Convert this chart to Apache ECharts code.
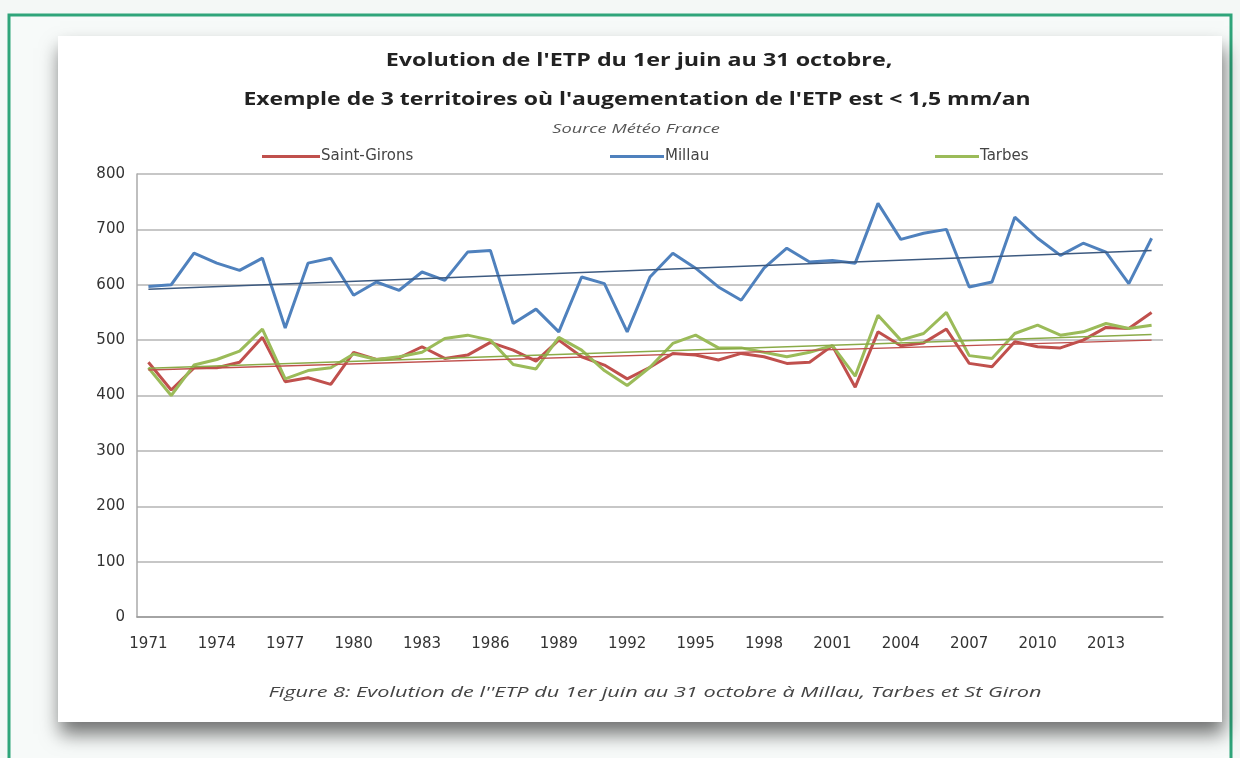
<!DOCTYPE html>
<html>
<head>
<meta charset="utf-8">
<script src="https://cdn.jsdelivr.net/npm/echarts@6/dist/echarts.min.js"></script>
<style>
html,body{margin:0;padding:0;background:#f4f8f6;}
#c{width:1240px;height:758px;}
</style>
</head>
<body>
<div id="c"></div>
<script>
var years = ['1971','1972','1973','1974','1975','1976','1977','1978','1979','1980',
 '1981','1982','1983','1984','1985','1986','1987','1988','1989','1990',
 '1991','1992','1993','1994','1995','1996','1997','1998','1999','2000',
 '2001','2002','2003','2004','2005','2006','2007','2008','2009','2010',
 '2011','2012','2013','2014','2015'];
var saintGirons = [460,410,450,450,460,505,425,432,420,478,
 465,468,488,467,473,496,482,462,500,470,
 455,430,451,476,473,464,476,470,458,460,
 490,415,515,490,495,520,458,452,497,488,
 486,500,523,521,550];
var millau = [597,600,657,639,626,648,522,639,648,581,
 605,590,623,608,659,662,530,556,515,614,
 602,515,614,657,630,596,572,630,666,641,
 644,639,747,682,693,700,596,605,722,684,
 653,675,659,602,684];
var tarbes = [450,400,455,465,480,520,430,445,450,475,
 465,470,478,503,509,500,456,448,505,482,
 445,418,451,494,509,486,486,478,470,478,
 490,435,545,500,512,550,472,467,512,527,
 509,515,530,521,527];
// linear trend endpoints (first year, last year)
var trendSaintGirons = [446, 500];
var trendMillau = [592, 662];
var trendTarbes = [449, 510];
var yTicks = [0,100,200,300,400,500,600,700,800];

var chart = echarts.init(document.getElementById('c'));
var FONT = '"Open Sans", "Liberation Sans", sans-serif';
var AXFONT = '"DejaVu Sans", sans-serif';
function trend(t, color){
  return {
    silent: true, symbol: ['none','none'], label:{show:false},
    lineStyle:{color: color, width: 1.5, type:'solid'},
    data: [[{coord:[years[0], t[0]]},{coord:[years[years.length-1], t[1]]}]]
  };
}
function stretchedText(txt, cx, cy, font, sx, fill){
  return {type:'text', x:cx, y:cy, scaleX:sx, z:10,
    style:{text:txt, font:font, fill:fill, textAlign:'center', textVerticalAlign:'middle'}};
}
var option = {
  animation: false,
  backgroundColor: '#f4f8f6',
  graphic: [
    {type:'rect', z:-10, shape:{x:9,y:15,width:1222,height:760},
     style:{fill:'#f7faf9', stroke:'#2fa57a', lineWidth:3}},
    {type:'rect', z:-9, shape:{x:58,y:36,width:1164,height:686},
     style:{fill:'#ffffff', shadowBlur:18, shadowOffsetY:12, shadowOffsetX:2, shadowColor:'rgba(0,0,0,0.55)'}},
    stretchedText("Evolution de l'ETP du 1er juin au 31 octobre,", 639, 61, 'bold 17px '+FONT, 1.37, '#222'),
    stretchedText("Exemple de 3 territoires où l'augementation de l'ETP est < 1,5 mm/an", 637, 100, 'bold 17px '+FONT, 1.35, '#222'),
    stretchedText('Source Météo France', 636, 129, 'italic 13px '+FONT, 1.4, '#555'),
    stretchedText("Figure 8: Evolution de l''ETP du 1er juin au 31 octobre à Millau, Tarbes et St Giron", 655, 693, 'italic 14px '+FONT, 1.55, '#444')
  ],
  legend: [
    {data:['Saint-Girons'], left:257, top:144, itemWidth:58, itemHeight:3, itemGap:4, icon:'rect',
     textStyle:{fontFamily:AXFONT, fontSize:15, color:'#444', padding:[0,0,0,-4]}},
    {data:['Millau'], left:605, top:144, itemWidth:54, itemHeight:3, icon:'rect',
     textStyle:{fontFamily:AXFONT, fontSize:15, color:'#444', padding:[0,0,0,-4]}},
    {data:['Tarbes'], left:930, top:144, itemWidth:44, itemHeight:3, icon:'rect',
     textStyle:{fontFamily:AXFONT, fontSize:15, color:'#444', padding:[0,0,0,-4]}}
  ],
  grid: {left:137, right:77, top:174, bottom:141},
  xAxis: {
    type:'category', data: years, boundaryGap:true,
    axisLine:{show:true, lineStyle:{color:'#999', width:1.5}},
    axisTick:{show:false},
    axisLabel:{interval:2, color:'#333', fontFamily:AXFONT, fontSize:15, margin:20}
  },
  yAxis: {
    type:'value', min:0, max:800, interval:100,
    axisLine:{show:true, lineStyle:{color:'#aaa', width:1.5}},
    axisTick:{show:false},
    splitLine:{lineStyle:{color:'#b4b4b4', width:1.5}},
    axisLabel:{color:'#333', fontFamily:AXFONT, fontSize:15, margin:12,
      formatter:function(v){return yTicks.indexOf(v)>=0 ? String(v) : '';}}
  },
  series: [
    {name:'Saint-Girons', type:'line', data:saintGirons, showSymbol:false, symbol:'none',
     lineStyle:{color:'#c0504d', width:3}, itemStyle:{color:'#c0504d'}, z:3,
     markLine: trend(trendSaintGirons, '#c0504d')},
    {name:'Millau', type:'line', data:millau, showSymbol:false, symbol:'none',
     lineStyle:{color:'#4f81bd', width:3}, itemStyle:{color:'#4f81bd'}, z:2,
     markLine: trend(trendMillau, '#3d5a80')},
    {name:'Tarbes', type:'line', data:tarbes, showSymbol:false, symbol:'none',
     lineStyle:{color:'#9bbb59', width:3}, itemStyle:{color:'#9bbb59'}, z:4,
     markLine: trend(trendTarbes, '#8aab48')}
  ]
};
chart.setOption(option);
</script>
</body>
</html>
